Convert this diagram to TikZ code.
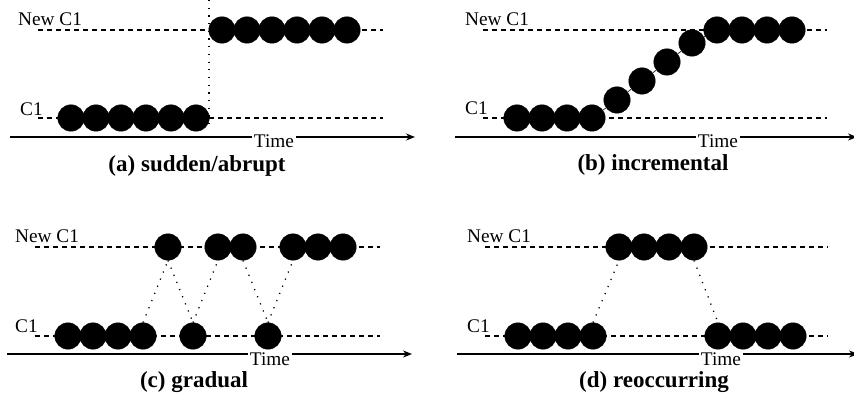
\documentclass[tikz,border=0pt]{standalone}
\usepackage{fontspec}
\setmainfont{Liberation Serif}
\usetikzlibrary{arrows.meta}
\begin{document}
\begin{tikzpicture}[x=1pt,y=-1pt,
  dot/.style={circle,fill=black,draw=black,minimum size=26.5pt,inner sep=0pt},
  level/.style={line width=1.1pt,dash pattern=on 5pt off 4pt},
  link/.style={line width=1.3pt,dash pattern=on 1.2pt off 6.5pt},
  axis/.style={line width=1.5pt,-{Stealth[length=9pt,width=7pt]}},
  lbl/.style={anchor=base west,inner sep=0pt,font=\fontsize{19.3}{19.3}\selectfont},
  timelbl/.style={anchor=base,fill=white,inner xsep=2pt,inner ysep=1pt,font=\fontsize{19.3}{19.3}\selectfont},
  caption/.style={anchor=base,inner sep=0pt,font=\fontsize{23}{23}\selectfont\bfseries}]
\useasboundingbox (0,0) rectangle (854,398);

% ---------- (a) sudden/abrupt ----------
\coordinate (a0) at (38,30);  \coordinate (a1) at (383,30);
\coordinate (a2) at (38,118); \coordinate (a3) at (383,118);
\draw[level] (a0) -- (a1);
\draw[level] (a2) -- (a3);
\node[lbl] (aNew) at (18,26) {New C1};
\node[lbl] (aOld) at (20,116) {C1};
\coordinate (av0) at (209,0); \coordinate (av1) at (209,129);
\draw[link] (av0) -- (av1);
\foreach \i/\x in {1/71,2/96,3/121,4/146,5/171,6/196}
  \node[dot] (ab\i) at (\x,118) {};
\foreach \i/\x in {1/222,2/247,3/272,4/297,5/322,6/347}
  \node[dot] (at\i) at (\x,30) {};
\coordinate (ax0) at (10,137); \coordinate (ax1) at (415,137);
\draw[axis] (ax0) -- (ax1);
\node[timelbl] (aTime) at (274,148) {Time};
\node[caption] (aCap) at (197,172) {(a) sudden/abrupt};

% ---------- (b) incremental ----------
\coordinate (b0) at (483,30);  \coordinate (b1) at (827,30);
\coordinate (b2) at (483,118); \coordinate (b3) at (827,118);
\draw[level] (b0) -- (b1);
\draw[level] (b2) -- (b3);
\node[lbl] (bNew) at (465,26) {New C1};
\node[lbl] (bOld) at (465,115) {C1};
\foreach \i/\x in {1/517,2/542,3/567,4/592}
  \node[dot] (bb\i) at (\x,118) {};
\node[dot] (br1) at (617,100) {};
\node[dot] (br2) at (642,81) {};
\node[dot] (br3) at (667,62) {};
\node[dot] (br4) at (692,43) {};
\foreach \i/\x in {1/717,2/742,3/767,4/792}
  \node[dot] (bt\i) at (\x,30) {};
\draw[line width=0.6pt] (bb4) -- (br1) -- (br2) -- (br3) -- (br4) -- (bt1);
\coordinate (bx0) at (455,137); \coordinate (bx1) at (857,137);
\draw[axis] (bx0) -- (bx1);
\node[timelbl] (bTime) at (718,148) {Time};
\node[caption] (bCap) at (653,171) {(b) incremental};

% ---------- (c) gradual ----------
\coordinate (c0) at (35,247);  \coordinate (c1) at (380,247);
\coordinate (c2) at (35,336);  \coordinate (c3) at (380,336);
\draw[level] (c0) -- (c1);
\draw[level] (c2) -- (c3);
\node[lbl] (cNew) at (15,243) {New C1};
\node[lbl] (cOld) at (15,332) {C1};
\foreach \i/\x in {1/68,2/93,3/118,4/143,5/193,6/268}
  \node[dot] (cb\i) at (\x,336) {};
\foreach \i/\x in {1/168,2/218,3/243,4/293,5/318,6/343}
  \node[dot] (ct\i) at (\x,247) {};
\draw[link] (cb4.north) -- (ct1.south);
\draw[link] (ct1.south) -- (cb5.north);
\draw[link] (cb5.north) -- (ct2.south);
\draw[link] (ct3.south) -- (cb6.north);
\draw[link] (cb6.north) -- (ct4.south);
\coordinate (cx0) at (7,354); \coordinate (cx1) at (412,354);
\draw[axis] (cx0) -- (cx1);
\node[timelbl] (cTime) at (270,365) {Time};
\node[caption] (cCap) at (194,387) {(c) gradual};

% ---------- (d) reoccurring ----------
\coordinate (d0) at (485,247);  \coordinate (d1) at (828,247);
\coordinate (d2) at (485,336);  \coordinate (d3) at (828,336);
\draw[level] (d0) -- (d1);
\draw[level] (d2) -- (d3);
\node[lbl] (dNew) at (467,243) {New C1};
\node[lbl] (dOld) at (467,332) {C1};
\foreach \i/\x in {1/518,2/543,3/568,4/593,5/718,6/743,7/768,8/793}
  \node[dot] (db\i) at (\x,336) {};
\foreach \i/\x in {1/619,2/644,3/669,4/694}
  \node[dot] (dt\i) at (\x,247) {};
\draw[link] (db4.north) -- (dt1.south);
\draw[link] (dt4.south) -- (db5.north);
\coordinate (dx0) at (457,354); \coordinate (dx1) at (858,354);
\draw[axis] (dx0) -- (dx1);
\node[timelbl] (dTime) at (721,365) {Time};
\node[caption] (dCap) at (654,387) {(d) reoccurring};
\end{tikzpicture}
\end{document}
